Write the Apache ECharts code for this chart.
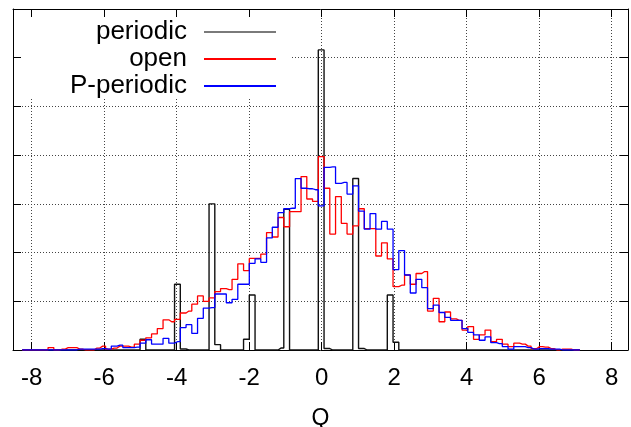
<!DOCTYPE html>
<html><head><meta charset="utf-8">
<script src="https://cdn.jsdelivr.net/npm/echarts@6/dist/echarts.min.js"></script>
<style>html,body{margin:0;padding:0;background:#fff}#c{width:631px;height:427px}</style>
</head><body><div id="c"></div>
<script>
// Histogram bin grid (Q units): left edge of first bin and bin width
const binStart = -8.342;
const binWidth = 0.15862;

// Bin counts, one value per bin (98 bins)
const periodic = [
  0,0,0,0,0,0,0,0,0,0,   0,0,0,0,0,0,0,0,0,0,
  0,22,0,0,0,0,0,135,2,0, 0,0,0,300,11,0,0,0,0,22,
  113,0,0,0,0,4,289,0,0,0, 0,0,616,3,0,0,0,0,352,3,
  0,0,0,0,113,16,0,0,0,0, 0,0,0,0,0,0,0,0,0,0,
  0,0,0,0,0,0,0,0,0,0,   0,0,0,0,0,0,0,0
];
const open = [
  0,0,0,0,0,5,0,2,5,5,   2,0,0,4,8,2,4,8,8,6,
  12,20,25,33,44,62,58,63,76,80, 94,111,100,107,120,126,124,145,177,163,
  188,188,197,241,232,272,253,284,284,356, 310,305,397,332,238,315,260,238,255,290,
  249,249,193,220,187,130,133,154,135,157, 161,80,106,58,78,64,61,41,48,22,
  31,41,17,22,12,7,14,12,8,3, 7,6,3,0,2,2,0,0
];
const pPeriodic = [
  0,0,0,0,0,0,0,0,0,0,   2,2,2,2,3,2,8,10,5,5,
  6,14,21,12,12,24,14,17,46,52, 34,65,86,87,115,115,97,104,135,135,
  178,187,180,230,252,282,290,291,352,332, 331,329,296,375,376,342,344,320,337,285,
  248,280,248,264,248,165,204,154,117,145, 128,85,92,77,67,61,61,44,36,31,
  20,27,15,13,7,2,7,7,5,2, 3,3,2,2,0,0,0,0
];
const seriesNames = ['periodic', 'open', 'P-periodic'];
const xTickValues = [-8, -6, -4, -2, 0, 2, 4, 6, 8];

const binCenters = open.map((_, i) => binStart + (i + 0.5) * binWidth);
const toPairs = vals => vals.map((v, i) => [binCenters[i], v]);

const FONT = "'Liberation Sans', Arial, sans-serif";
const chart = echarts.init(document.getElementById('c'), null, {renderer: 'canvas'});

const dotted = {type: [1, 2], color: '#444', width: 1};
const X_MIN = -8.516, X_MAX = 8.45;

chart.setOption({
  animation: false,
  backgroundColor: '#fff',
  grid: {left: 13, right: 3, top: 9, bottom: 77, containLabel: false, outerBoundsMode: 'none'},
  legend: {
    orient: 'vertical',
    align: 'right',
    right: 339,
    top: 9,
    padding: [10, 15, 0, 57],
    itemWidth: 72,
    itemHeight: 14,
    itemGap: 1,
    backgroundColor: '#fff',
    selectedMode: false,
    itemStyle: {opacity: 0},
    textStyle: {fontSize: 26, fontFamily: FONT, color: '#000', padding: [0, 12, 0, 0]},
    data: [
      {name: seriesNames[0], lineStyle: {color: '#7a7a7a', width: 2}},
      {name: seriesNames[1]},
      {name: seriesNames[2]}
    ]
  },
  xAxis: [
    {
      type: 'value', min: X_MIN, max: X_MAX, position: 'bottom',
      axisLine: {show: true, onZero: false, lineStyle: {color: '#000', width: 1}},
      axisTick: {show: true, inside: true, length: 8, customValues: xTickValues, lineStyle: {color: '#000'}},
      axisLabel: {show: true, customValues: xTickValues, fontSize: 24, fontFamily: FONT, color: '#000', margin: 16},
      splitLine: {show: true, lineStyle: dotted},
      name: 'Q', nameLocation: 'middle', nameGap: 57,
      nameTextStyle: {fontSize: 23, fontFamily: FONT, color: '#000'}
    },
    {
      type: 'value', min: X_MIN, max: X_MAX, position: 'top', z: 5,
      axisLine: {show: true, onZero: false, lineStyle: {color: '#000', width: 1}},
      axisTick: {show: true, inside: true, length: 8, customValues: xTickValues, lineStyle: {color: '#000'}},
      axisLabel: {show: false},
      splitLine: {show: false}
    }
  ],
  yAxis: [
    {
      type: 'value', min: 0, max: 700, interval: 100, position: 'left', z: 5,
      axisLine: {show: true, onZero: false, lineStyle: {color: '#000', width: 1}},
      axisTick: {show: true, inside: true, length: 8, lineStyle: {color: '#000'}},
      axisLabel: {show: false},
      splitLine: {show: false}
    },
    {
      type: 'value', min: 0, max: 700, interval: 100, position: 'right',
      axisLine: {show: true, onZero: false, lineStyle: {color: '#000', width: 1}},
      axisTick: {show: true, inside: true, length: 8, lineStyle: {color: '#000'}},
      axisLabel: {show: false},
      splitLine: {show: true, lineStyle: dotted}
    }
  ],
  series: [
    {name: seriesNames[0], type: 'line', step: 'middle', symbol: 'none', data: toPairs(periodic),
     color: '#000', lineStyle: {color: '#111', width: 1.4}, xAxisIndex: 0, yAxisIndex: 0},
    {name: seriesNames[1], type: 'line', step: 'middle', symbol: 'none', data: toPairs(open),
     color: '#ff0000', lineStyle: {color: '#ff0000', width: 1.3}, xAxisIndex: 0, yAxisIndex: 0},
    {name: seriesNames[2], type: 'line', step: 'middle', symbol: 'none', data: toPairs(pPeriodic),
     color: '#0000ff', lineStyle: {color: '#0000ff', width: 1.3}, xAxisIndex: 0, yAxisIndex: 0}
  ]
});
</script></body></html>
